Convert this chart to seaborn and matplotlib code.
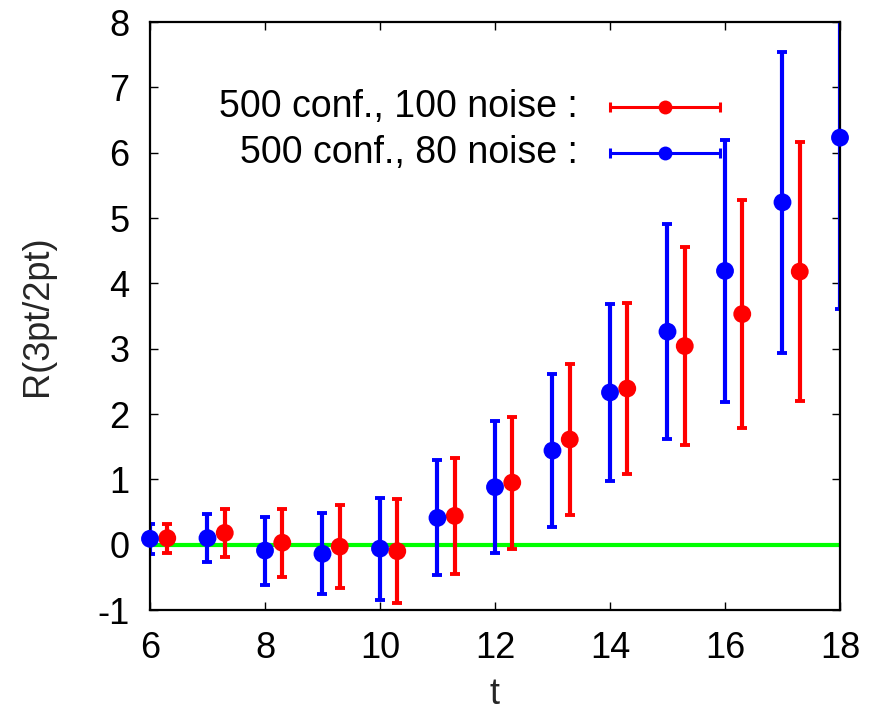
import numpy as np
import pandas as pd
import matplotlib
matplotlib.use("Agg")
import matplotlib.pyplot as plt
import seaborn as sns

# ---- data ----
t_blue = [6, 7, 8, 9, 10, 11, 12, 13, 14, 15, 16, 17, 18]
r_blue = [0.09, 0.10, -0.09, -0.14, -0.06, 0.41, 0.88, 1.44, 2.33, 3.26, 4.19, 5.24, 6.23]
e_blue = [0.23, 0.37, 0.52, 0.62, 0.78, 0.88, 1.01, 1.17, 1.36, 1.65, 2.00, 2.30, 2.62]

t_red = [6.3, 7.3, 8.3, 9.3, 10.3, 11.3, 12.3, 13.3, 14.3, 15.3, 16.3, 17.3]
r_red = [0.10, 0.18, 0.03, -0.03, -0.10, 0.44, 0.95, 1.61, 2.39, 3.04, 3.53, 4.18]
e_red = [0.22, 0.37, 0.52, 0.63, 0.80, 0.89, 1.01, 1.16, 1.31, 1.51, 1.75, 1.98]

label_red = "500 conf., 100 noise :"
label_blue = "500 conf., 80 noise :"
x_ticks = [6, 8, 10, 12, 14, 16, 18]
y_ticks = [-1, 0, 1, 2, 3, 4, 5, 6, 7, 8]

RED = "#ff0000"
BLUE = "#0000ff"
GREEN = "#00ff00"
FS = 26

sns.set_style("ticks")
plt.rcParams["font.family"] = ["Liberation Sans", "DejaVu Sans"]
plt.rcParams["axes.unicode_minus"] = False

fig = plt.figure(figsize=(8.79, 7.19), dpi=100)
ax = fig.add_axes([150 / 879, 1 - 610 / 719, 690 / 879, 588 / 719])

df = pd.concat([
    pd.DataFrame({"t": t_red, "R": r_red, "err": e_red, "set": label_red}),
    pd.DataFrame({"t": t_blue, "R": r_blue, "err": e_blue, "set": label_blue}),
], ignore_index=True)

ax.axhline(0, color=GREEN, lw=3.0, zorder=1)

for name, col in [(label_red, RED), (label_blue, BLUE)]:
    sub = df[df["set"] == name]
    ax.errorbar(sub["t"], sub["R"], yerr=sub["err"], fmt="none", ecolor=col,
                elinewidth=3.0, capsize=3.5, capthick=2.8, zorder=2)

sns.scatterplot(data=df, x="t", y="R", hue="set",
                palette={label_red: RED, label_blue: BLUE},
                s=165, edgecolor="none", legend=False, ax=ax, zorder=3,
                clip_on=False)

ax.set_xlim(6, 18)
ax.set_ylim(-1, 8)
ax.set_xticks(x_ticks)
ax.set_yticks(y_ticks)
ax.tick_params(direction="in", length=6, width=1.0, top=True, right=True,
               labelsize=FS, colors="black", pad=15)
for s in ax.spines.values():
    s.set_linewidth(1.6)
    s.set_color("black")
ax.set_xlabel("t", fontsize=FS, labelpad=8)
ax.set_ylabel("R(3pt/2pt)", fontsize=FS, labelpad=30)

# gnuplot-style key: right-aligned text followed by a horizontal errorbar sample
for i, (name, col) in enumerate([(label_red, RED), (label_blue, BLUE)]):
    yk = 0.855 - i * 0.077
    ax.text(0.620, yk, name, transform=ax.transAxes, ha="right", va="center",
            fontsize=FS + 1, color="black")
    ax.plot([0.667, 0.826], [yk, yk], transform=ax.transAxes, color=col, lw=2.2,
            clip_on=False)
    ax.plot([0.667, 0.826], [yk, yk], transform=ax.transAxes, color=col, ls="none",
            marker="|", markersize=7, markeredgewidth=2.2, clip_on=False)
    ax.plot([0.746], [yk], transform=ax.transAxes, color=col, marker="o",
            markersize=10, markeredgewidth=0, clip_on=False)

fig.savefig("out.png", dpi=100)
